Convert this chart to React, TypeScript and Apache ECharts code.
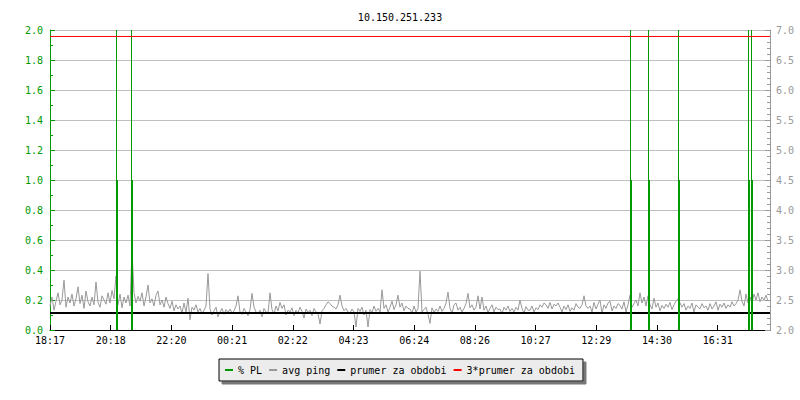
import React, { useEffect, useRef } from "react";
import * as echarts from "echarts";

const TITLE = "10.150.251.233";
const timeLabels = ["18:17", "20:18", "22:20", "00:21", "02:22", "04:23", "06:24", "08:26", "10:27", "12:29", "14:30", "16:31"];
const labelStepMin = 121.4;
const spanMin = 1440;
const sampleStepMin = 4;

// avg ping (ms), one sample every 4 minutes starting at 18:17
const avgPing = [
  2.4, 2.55, 2.33, 2.48, 2.62, 2.42, 2.5, 2.83, 2.38, 2.55, 2.45, 2.6, 2.4, 2.52, 2.72,
  2.44, 2.58, 2.36, 2.65, 2.47, 2.4, 2.55, 2.42, 2.8, 2.46, 2.38, 2.57, 2.5, 2.43, 2.62,
  2.45, 2.66, 2.52, 2.9, 2.42, 2.6, 2.37, 2.55, 2.45, 2.58, 2.4, 3.33, 2.62, 2.45, 2.56,
  2.48, 2.62, 2.4, 2.55, 2.75, 2.45, 2.52, 2.4, 2.58, 2.65, 2.42, 2.5, 2.38, 2.55, 2.44,
  2.36, 2.48, 2.32, 2.42, 2.35, 2.4, 2.28, 2.45, 2.3, 2.53, 2.17, 2.38, 2.33, 2.42, 2.3,
  2.36, 2.27, 2.33, 2.4, 2.94, 2.35, 2.25, 2.32, 2.38, 2.22, 2.3, 2.36, 2.26, 2.34, 2.29,
  2.35, 2.28, 2.32, 2.4, 2.57, 2.3, 2.26, 2.36, 2.3, 2.24, 2.34, 2.61, 2.38, 2.3, 2.27,
  2.33, 2.22, 2.36, 2.3, 2.28, 2.62, 2.34, 2.27, 2.4, 2.32, 2.46, 2.36, 2.42, 2.25, 2.33,
  2.3, 2.37, 2.24, 2.33, 2.28, 2.38, 2.31, 2.2, 2.35, 2.29, 2.33, 2.24, 2.36, 2.3, 2.27,
  2.1, 2.32, 2.36, 2.42, 2.47, 2.44, 2.4, 2.38, 2.35, 2.42, 2.58, 2.4, 2.32, 2.36, 2.3,
  2.28, 2.35, 2.3, 2.05, 2.36, 2.31, 2.38, 2.25, 2.33, 2.05, 2.34, 2.29, 2.4, 2.31, 2.36,
  2.3, 2.67, 2.36, 2.42, 2.3, 2.38, 2.48, 2.34, 2.42, 2.58, 2.38, 2.45, 2.32, 2.4, 2.36,
  2.35, 2.28, 2.4, 2.3, 2.36, 2.98, 2.3, 2.34, 2.38, 2.26, 2.11, 2.37, 2.29, 2.35, 2.31,
  2.4, 2.31, 2.36, 2.45, 2.63, 2.36, 2.28, 2.42, 2.45, 2.33, 2.38, 2.3, 2.36, 2.44, 2.61,
  2.37, 2.42, 2.33, 2.38, 2.57, 2.35, 2.55, 2.33, 2.4, 2.29, 2.36, 2.42, 2.3, 2.38, 2.34,
  2.35, 2.27, 2.38, 2.33, 2.4, 2.31, 2.36, 2.3, 2.38, 2.33, 2.5, 2.36, 2.28, 2.39, 2.33,
  2.33, 2.4, 2.3, 2.37, 2.34, 2.42, 2.38, 2.45, 2.42, 2.36, 2.46, 2.35, 2.43, 2.4, 2.45,
  2.38, 2.3, 2.4, 2.34, 2.42, 2.31, 2.37, 2.33, 2.44, 2.38, 2.36, 2.42, 2.57, 2.4, 2.36,
  2.4, 2.3, 2.46, 2.35, 2.43, 2.5, 2.28, 2.42, 2.36, 2.45, 2.48, 2.32, 2.4, 2.36, 2.44,
  2.41, 2.35, 2.47, 2.3, 2.42, 2.58, 2.38, 2.44, 2.5, 2.4, 2.62, 2.45, 2.55, 2.4, 2.57,
  2.42, 2.35, 2.53, 2.38, 2.45, 2.32, 2.41, 2.36, 2.43, 2.38, 2.46, 2.34, 2.42, 2.48, 2.52,
  2.45, 2.38, 2.44, 2.33, 2.4, 2.36, 2.45, 2.3, 2.42, 2.38, 2.35, 2.44, 2.37, 2.4, 2.33,
  2.44, 2.35, 2.4, 2.47, 2.33, 2.43, 2.38, 2.45, 2.36, 2.42, 2.38, 2.47, 2.4, 2.44, 2.5,
  2.67, 2.48, 2.4, 2.6, 2.45, 2.55, 2.45, 2.6, 2.5, 2.62, 2.47, 2.55, 2.5, 2.58, 2.48,
];

// packet loss events (minutes after 18:17) and their values
const plTimes = [134, 164, 1162, 1198, 1258, 1398, 1404];
const plValues = [1.0, 1.0, 1.0, 1.0, 1.0, 1.0, 1.0];

const prumer = 2.283;
const prumer3 = 6.892;

const GREEN = "#009900";
const GRAY = "#999999";
const RED = "#ff0000";
const FONT = "DejaVu Sans Mono";

export default function App() {
  const ref = useRef<HTMLDivElement>(null);
  useEffect(() => {
    if (!ref.current) return;
    const chart = echarts.init(ref.current, undefined, { renderer: "svg" });
    const pingData = avgPing.map((v, i) => [i * sampleStepMin, v]);
    const plData = plTimes.map((t, i) => [t, plValues[i]]);
    chart.setOption({
      animation: false,
      backgroundColor: "#ffffff",
      title: {
        text: TITLE,
        left: "center",
        top: 7,
        textStyle: { fontFamily: FONT, fontSize: 10, fontWeight: "normal", color: "#000" },
      },
      grid: { left: 50, right: 30, top: 30, bottom: 70, containLabel: false },
      legend: {
        left: "center",
        top: 359,
        padding: [6, 8, 6, 6],
        itemWidth: 8,
        itemHeight: 2,
        itemGap: 7,
        backgroundColor: "#ececec",
        borderColor: "#000",
        borderWidth: 1,
        shadowColor: "#777",
        shadowOffsetX: 3,
        shadowOffsetY: 3,
        shadowBlur: 0,
        textStyle: { fontFamily: FONT, fontSize: 10, color: "#000" },
        data: [
          { name: "% PL", icon: "rect", itemStyle: { color: GREEN } },
          { name: "avg ping", icon: "rect", itemStyle: { color: GRAY } },
          { name: "prumer za obdobi", icon: "rect", itemStyle: { color: "#000" } },
          { name: "3*prumer za obdobi", icon: "rect", itemStyle: { color: RED } },
        ],
      },
      xAxis: {
        type: "value",
        min: 0,
        max: spanMin,
        interval: labelStepMin,
        axisLine: { show: true, lineStyle: { color: "#000", width: 1 } },
        axisTick: { show: true, inside: true, length: 5, lineStyle: { color: "#000" } },
        splitLine: { show: false },
        axisLabel: {
          showMaxLabel: false,
          margin: 5,
          fontFamily: FONT,
          fontSize: 10,
          color: "#000",
          formatter: (v: number) => {
            const k = Math.round(v / labelStepMin);
            return k >= 0 && k < timeLabels.length && Math.abs(v - k * labelStepMin) < 1 ? timeLabels[k] : "";
          },
        },
      },
      yAxis: [
        {
          type: "value",
          min: 0,
          max: 2,
          interval: 0.2,
          position: "left",
          axisLine: { show: true, lineStyle: { color: GREEN, width: 1 } },
          axisTick: { show: true, inside: true, length: 5, lineStyle: { color: GREEN } },
          minorTick: { show: true, splitNumber: 2, length: 3, lineStyle: { color: GREEN } },
          splitLine: { show: true, lineStyle: { color: "#c0c0c0", width: 1 } },
          axisLabel: {
            margin: 7,
            fontFamily: FONT,
            fontSize: 10,
            color: GREEN,
            formatter: (v: number) => v.toFixed(1),
          },
        },
        {
          type: "value",
          min: 2,
          max: 7,
          interval: 0.5,
          position: "right",
          axisLine: { show: true, lineStyle: { color: GRAY, width: 1 } },
          axisTick: { show: true, inside: true, length: 5, lineStyle: { color: GRAY } },
          minorTick: { show: true, splitNumber: 5, length: 3, lineStyle: { color: GRAY } },
          splitLine: { show: false },
          axisLabel: {
            margin: 6,
            fontFamily: FONT,
            fontSize: 10,
            color: GRAY,
            formatter: (v: number) => v.toFixed(1),
          },
        },
      ],
      series: [
        {
          name: "avg ping",
          type: "line",
          yAxisIndex: 1,
          data: pingData,
          showSymbol: false,
          symbol: "none",
          lineStyle: { color: GRAY, width: 1 },
          itemStyle: { color: GRAY },
          z: 2,
        },
        {
          name: "prumer za obdobi",
          type: "line",
          yAxisIndex: 1,
          data: [[0, prumer], [spanMin, prumer]],
          symbol: "none",
          lineStyle: { color: "#000", width: 2 },
          itemStyle: { color: "#000" },
          z: 3,
        },
        {
          name: "% PL",
          type: "bar",
          yAxisIndex: 0,
          data: plData,
          barWidth: 2,
          itemStyle: { color: GREEN },
          markLine: {
            silent: true,
            symbol: ["none", "none"],
            label: { show: false },
            itemStyle: { color: GREEN },
            lineStyle: { color: GREEN, width: 1, type: "solid", opacity: 1 },
            emphasis: { disabled: true },
            data: plTimes.map((t) => ({
              xAxis: t - 1,
              lineStyle: { color: GREEN, width: 1, type: "solid" },
            })),
          },
          z: 4,
        },
        {
          name: "3*prumer za obdobi",
          type: "line",
          yAxisIndex: 1,
          data: [[0, prumer3], [spanMin, prumer3]],
          symbol: "none",
          lineStyle: { color: RED, width: 1 },
          itemStyle: { color: RED },
          z: 5,
        },
      ],
    });
    return () => chart.dispose();
  }, []);
  return (
    <div
      ref={ref}
      style={{ position: "fixed", left: 0, top: 0, width: 800, height: 400, background: "#fff" }}
    />
  );
}
